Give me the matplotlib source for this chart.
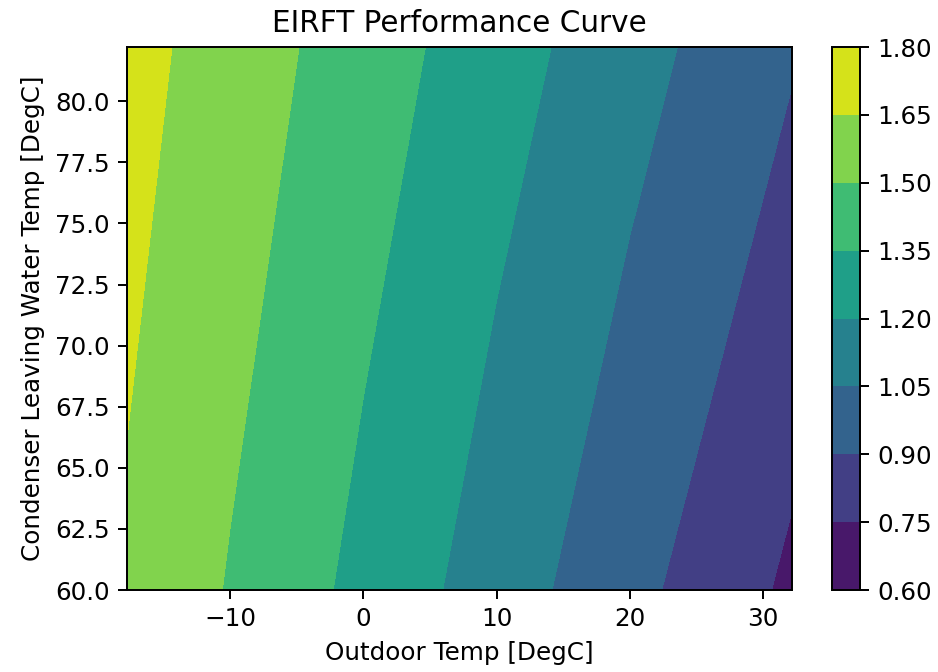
import numpy as np
import matplotlib
matplotlib.use('Agg')
import matplotlib.pyplot as plt

# outdoor temp nodes [DegC] and condenser leaving water temp nodes [DegC]
outdoor_temp = [-17.78, -10.0, 0.0, 10.0, 20.0, 32.22]
water_temp = [60.0, 82.22]

# EIRFT values, one row per water temp
eirft_low = [1.629, 1.489, 1.309, 1.126, 0.944, 0.722]
eirft_high = [1.704, 1.581, 1.424, 1.265, 1.107, 0.914]

levels = [0.60, 0.75, 0.90, 1.05, 1.20, 1.35, 1.50, 1.65, 1.80]

DPI = 177

X, Y = np.meshgrid(outdoor_temp, water_temp)
Z = np.array([eirft_low, eirft_high])

fig = plt.figure(figsize=(938 / DPI, 672 / DPI), dpi=DPI)
ax = fig.add_axes([0.1354, 0.122, 0.709, 0.808])
cax = fig.add_axes([0.887, 0.122, 0.030, 0.808])

cs = ax.contourf(X, Y, Z, levels=levels, cmap='viridis')
cbar = fig.colorbar(cs, cax=cax)
cbar.set_ticks(levels)
cbar.set_ticklabels(['%.2f' % v for v in levels])

ax.set_xticks([-10, 0, 10, 20, 30])
ax.set_yticks(np.arange(60.0, 80.1, 2.5))
ax.set_title('EIRFT Performance Curve')
ax.set_xlabel('Outdoor Temp [DegC]')
ax.set_ylabel('Condenser Leaving Water Temp [DegC]')

fig.savefig('out.png', dpi=DPI)
